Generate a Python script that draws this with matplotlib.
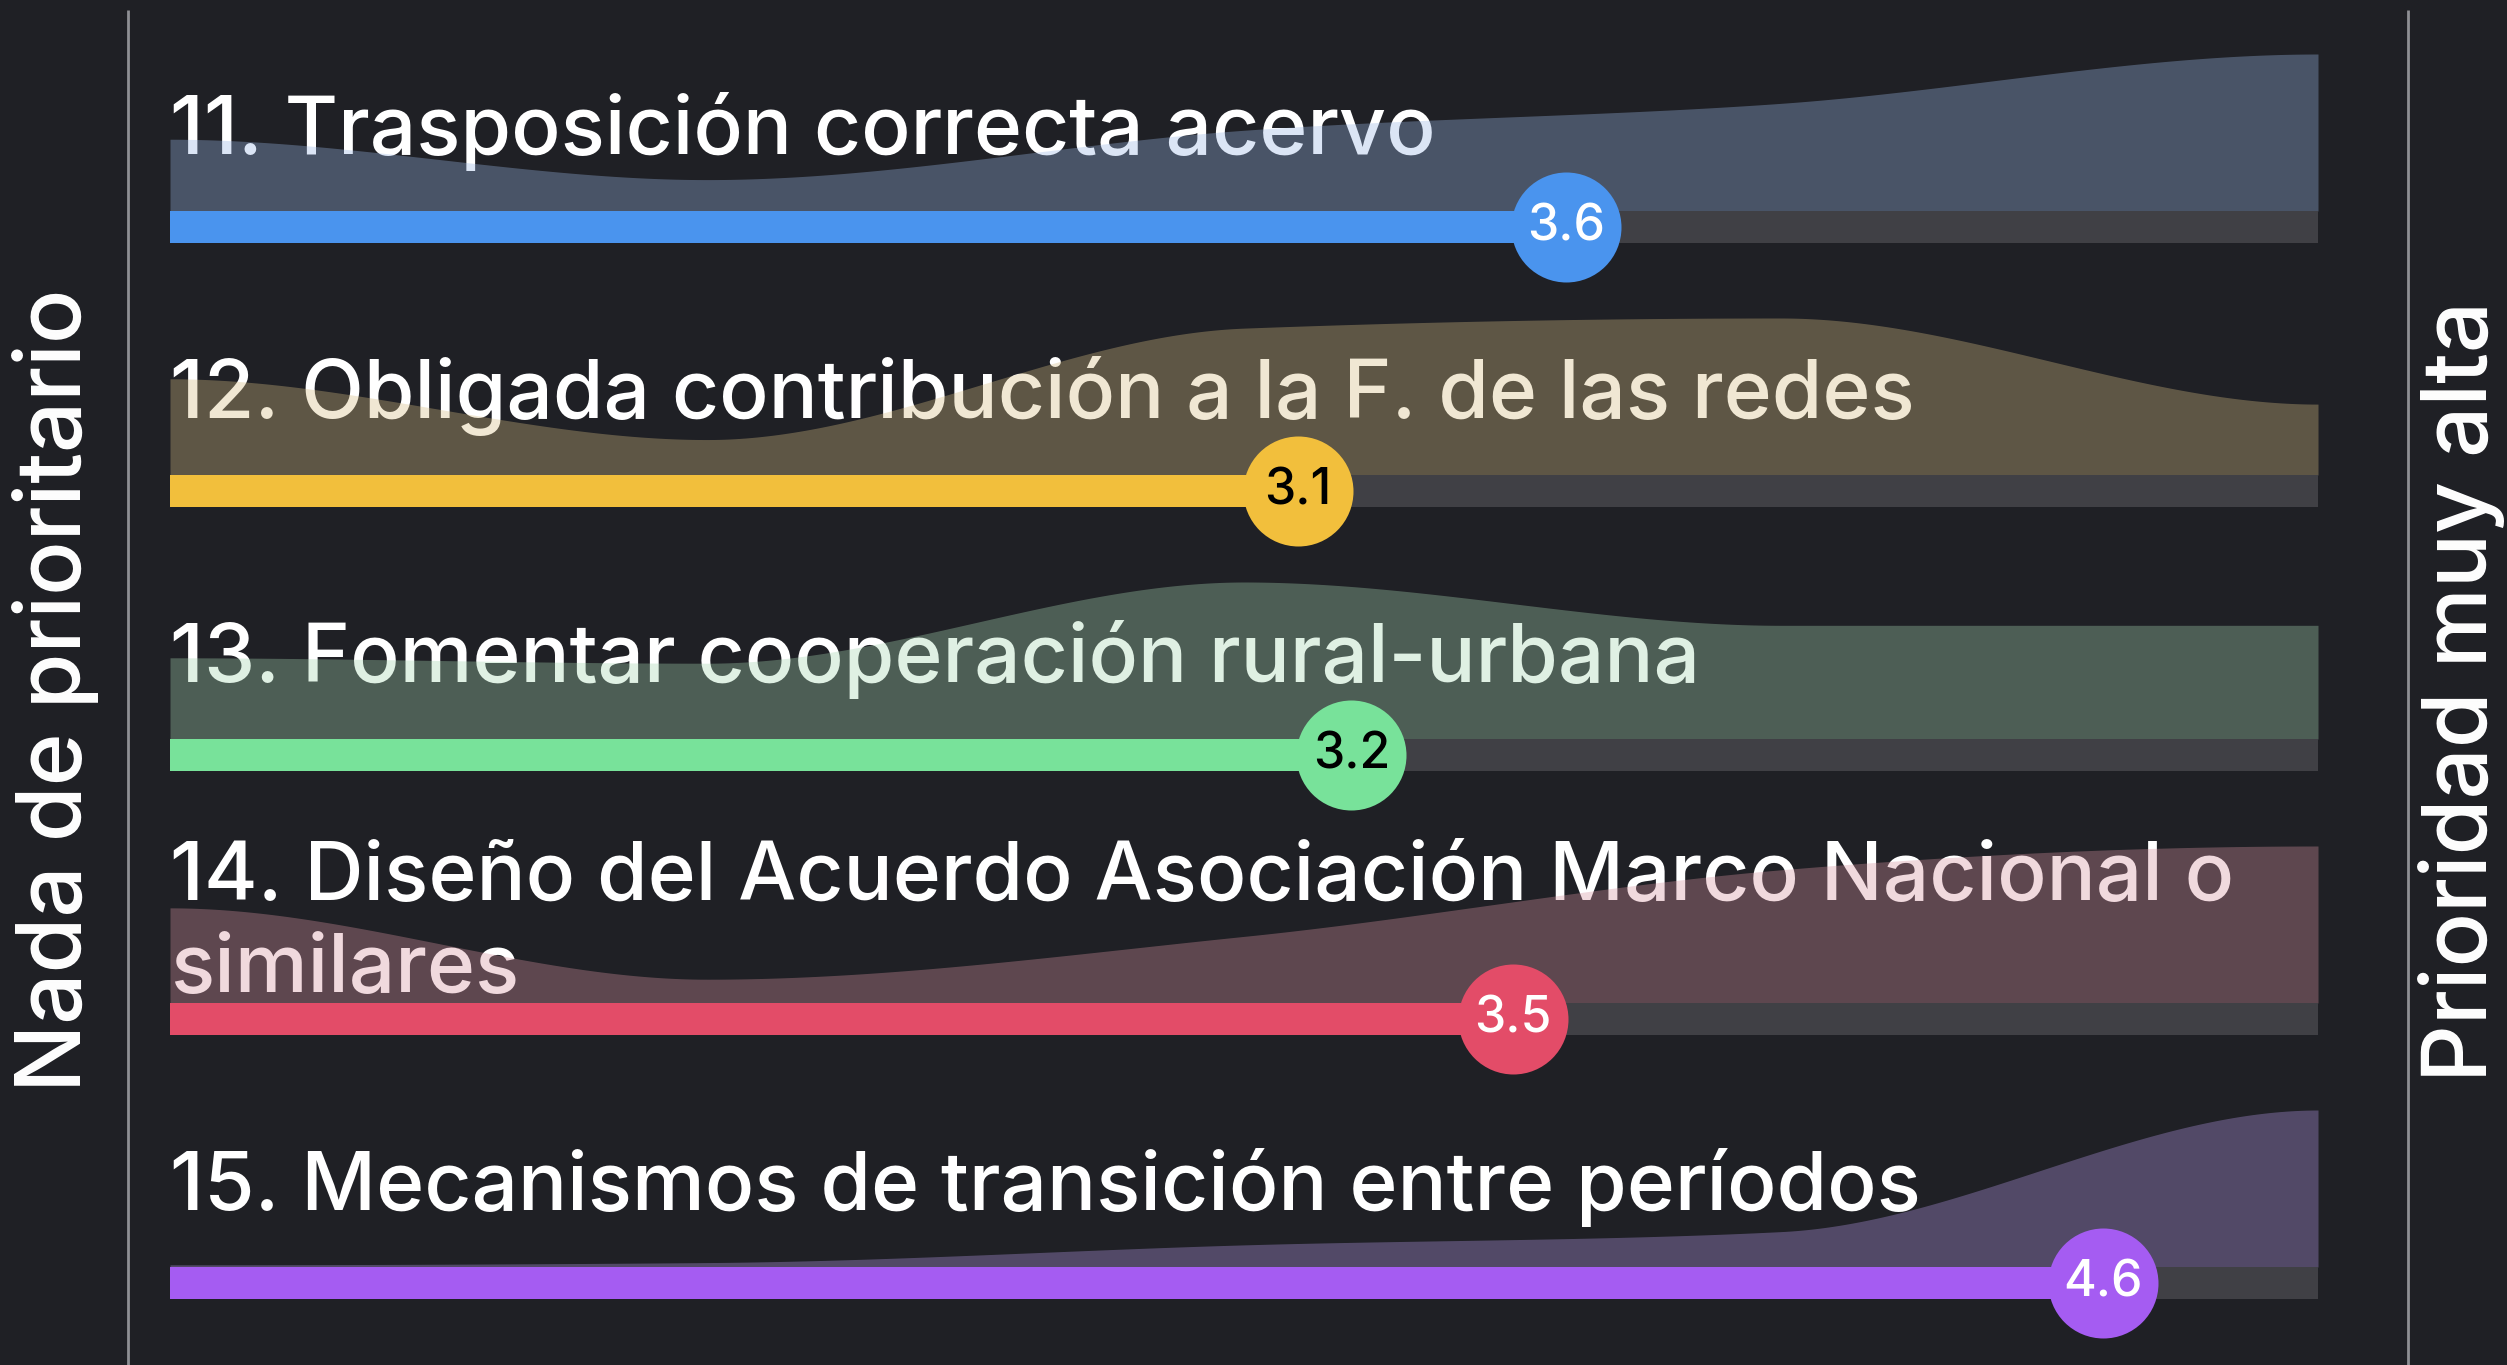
import numpy as np
import matplotlib
matplotlib.use("Agg")
import matplotlib.pyplot as plt

# ---------------- data ----------------
levels = [1, 2, 3, 4, 5]
labels = [
    "11. Trasposición correcta acervo",
    "12. Obligada contribución a la F. de las redes",
    "13. Fomentar cooperación rural-urbana",
    "14. Diseño del Acuerdo Asociación Marco Nacional o\nsimilares",
    "15. Mecanismos de transición entre períodos",
]
means = [3.6, 3.1, 3.2, 3.5, 4.6]
# share of answers (%) per level 1..5
dist_11 = [16, 7, 18, 24, 35]
dist_12 = [19, 7, 29, 31, 14]
dist_13 = [15, 14, 29, 21, 21]
dist_14 = [20, 5, 14, 28, 33]
dist_15 = [1, 2, 10, 16, 71]
left_label = "Nada de prioritario"
right_label = "Prioridad muy alta"

# ---------------- style ----------------
BG = "#1f2025"
TRACK = "#404045"
bar_colors = ["#4a94ee", "#f2bf3c", "#78e29a", "#e34c68", "#a55cf2"]
area_colors = ["#9ab7e4", "#d6bd83", "#a5d4b1", "#d692a0", "#b398e5"]
num_colors = ["white", "black", "black", "white", "white"]
FONT = ["Inter", "DejaVu Sans"]

W, H, DPI = 2507, 1365, 100
ROW0, ROWSTEP = 227, 264          # px of first bar centre, px between rows
X0, X1 = 170, 2318                # px of value 1 and value 5
BAR_PX = 32
AREA_PX = 157

fig = plt.figure(figsize=(W / DPI, H / DPI), dpi=DPI, facecolor=BG)

# decoration axes in pixel space
deco = fig.add_axes([0, 0, 1, 1])
deco.set_xlim(0, W)
deco.set_ylim(H, 0)
deco.axis("off")
deco.set_facecolor(BG)
for xv in (128, 2408):
    deco.plot([xv, xv], [10, H], color="#8e8f94", lw=2.0, solid_capstyle="butt")
deco.text(56, 690, left_label, rotation=90, ha="center", va="center",
          color="white", fontsize=65, family=FONT, weight="medium")
deco.text(2462, 691, right_label, rotation=90, ha="center", va="center",
          color="white", fontsize=65, family=FONT, weight="medium")

# data axes: x = score 1..5, y = row index
ax = fig.add_axes([X0 / W, 0, (X1 - X0) / W, 1])
ax.set_xlim(levels[0], levels[-1])
ax.set_ylim((H - ROW0) / ROWSTEP, -ROW0 / ROWSTEP)
ax.axis("off")
ax.patch.set_alpha(0)

px = 1.0 / ROWSTEP
bar_h = BAR_PX * px
area_h = AREA_PX * px


def monotone_curve(xp, yp, n=400):
    """Monotone cubic (d3 monotoneX-like) smoothing with flat ends."""
    xp = np.asarray(xp, float)
    yp = np.asarray(yp, float)
    h = np.diff(xp)
    s = np.diff(yp) / h
    m = np.zeros(len(xp))
    for i in range(1, len(xp) - 1):
        p = (s[i - 1] * h[i] + s[i] * h[i - 1]) / (h[i - 1] + h[i])
        m[i] = (np.sign(s[i - 1]) + np.sign(s[i])) * min(abs(s[i - 1]), abs(s[i]), 0.5 * abs(p))
    xs = np.linspace(xp[0], xp[-1], n)
    idx = np.clip(np.searchsorted(xp, xs, side="right") - 1, 0, len(xp) - 2)
    t = (xs - xp[idx]) / h[idx]
    h00 = 2 * t**3 - 3 * t**2 + 1
    h10 = t**3 - 2 * t**2 + t
    h01 = -2 * t**3 + 3 * t**2
    h11 = t**3 - t**2
    ys = h00 * yp[idx] + h10 * h[idx] * m[idx] + h01 * yp[idx + 1] + h11 * h[idx] * m[idx + 1]
    return xs, np.clip(ys, 0, None)


dists = [dist_11, dist_12, dist_13, dist_14, dist_15]
for i, (lab, mean, dist) in enumerate(zip(labels, means, dists)):
    y = i
    base = y - bar_h / 2
    # label (under the area so it gets tinted)
    lines = lab.split("\n")
    first = y + (-73 - (len(lines) - 1) * 46) * px
    for k, line in enumerate(lines):
        ax.text(levels[0], first + k * 92 * px, line, ha="left", va="baseline",
                color="white", fontsize=59, family=FONT, weight="medium", zorder=2)
    # distribution area
    d = np.asarray(dist, float)
    xs, ys = monotone_curve(levels, d / d.max())
    ax.fill_between(xs, base, base - ys * area_h, color=area_colors[i],
                    alpha=0.35, lw=0, zorder=3)
    # track and bar
    ax.barh(y, levels[-1] - levels[0], left=levels[0], height=bar_h,
            color=TRACK, lw=0, zorder=4)
    ax.barh(y, mean - levels[0], left=levels[0], height=bar_h,
            color=bar_colors[i], lw=0, zorder=5)
    ax.scatter([mean], [y], s=(110 * 72 / DPI) ** 2, color=bar_colors[i],
               lw=0, zorder=6, clip_on=False)
    ax.text(mean, y, f"{mean:.1f}", ha="center", va="center",
            color=num_colors[i], fontsize=36, family=FONT, weight="medium", zorder=7)

fig.savefig("out.png", dpi=DPI, facecolor=BG)
